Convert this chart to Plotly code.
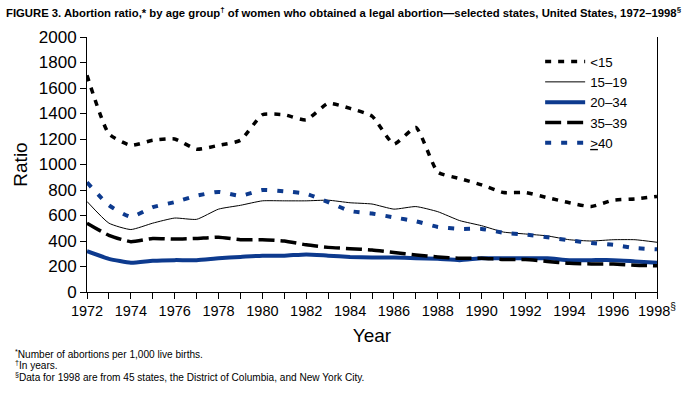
import plotly.graph_objects as go

years = list(range(1972, 1999))

lt15 = [1700, 1240, 1150, 1190, 1200, 1120, 1150, 1190, 1390, 1390, 1350, 1480,
        1440, 1380, 1160, 1290, 940, 890, 840, 780, 780, 740, 700, 670, 720, 730, 750]
a15_19 = [710, 540, 490, 540, 580, 570, 650, 680, 715, 715, 715, 720,
          700, 690, 650, 670, 630, 560, 520, 470, 455, 440, 410, 400, 410, 410, 390]
a20_34 = [320, 260, 230, 245, 250, 250, 265, 275, 285, 285, 295, 285,
          275, 270, 270, 265, 260, 250, 265, 265, 265, 265, 250, 250, 250, 240, 230]
a35_39 = [540, 445, 395, 420, 415, 420, 430, 410, 410, 400, 370, 350,
          340, 330, 310, 290, 275, 265, 265, 255, 255, 240, 225, 220, 220, 210, 205]
ge40 = [860, 680, 590, 665, 705, 755, 785, 755, 800, 790, 770, 705,
        635, 615, 585, 555, 510, 495, 495, 465, 450, 430, 405, 385, 370, 345, 335]

series_names = ["<15", "15–19", "20–34", "35–39", "<u>&gt;</u>40"]

tick_vals = list(range(1972, 1999, 2))
tick_text = [str(y) for y in tick_vals[:-1]] + ["1998<sup>§</sup>"]

BLUE = "#0d3a8e"

fig = go.Figure()
fig.add_trace(go.Scatter(x=years, y=lt15, name=series_names[0], mode="lines",
                         line=dict(color="black", width=3.5, dash="6px,7px", shape="spline", smoothing=0.5)))
fig.add_trace(go.Scatter(x=years, y=a15_19, name=series_names[1], mode="lines",
                         line=dict(color="black", width=1, shape="spline", smoothing=0.5)))
fig.add_trace(go.Scatter(x=years, y=a20_34, name=series_names[2], mode="lines",
                         line=dict(color=BLUE, width=4, shape="spline", smoothing=0.5)))
fig.add_trace(go.Scatter(x=years, y=a35_39, name=series_names[3], mode="lines",
                         line=dict(color="black", width=3.5, dash="16px,6px", shape="spline", smoothing=0.5)))
fig.add_trace(go.Scatter(x=years, y=ge40, name=series_names[4], mode="lines",
                         line=dict(color=BLUE, width=4, dash="6px,10px", shape="spline", smoothing=0.5)))

FONT = "Liberation Sans, Arial, sans-serif"

fig.update_layout(
    width=694, height=399,
    margin=dict(l=87, r=37, t=37, b=107),
    paper_bgcolor="white", plot_bgcolor="white",
    font=dict(family=FONT, color="black"),
    showlegend=True,
    legend=dict(x=0.795, y=0.963, xanchor="left", yanchor="top",
                font=dict(size=13.3, family=FONT), bgcolor="rgba(0,0,0,0)",
                itemwidth=40, tracegroupgap=0),
    xaxis=dict(range=[1972, 1998], tickvals=tick_vals, ticktext=tick_text,
               ticks="outside", ticklen=6, tickcolor="black", showgrid=False,
               showline=True, linecolor="black", linewidth=1, zeroline=False,
               tickfont=dict(size=14.5, family=FONT),
               minor=dict(dtick=1, tick0=1972, ticks="outside", ticklen=6, tickcolor="black"),
               title=dict(text="Year", font=dict(size=19, family=FONT), standoff=10)),
    yaxis=dict(range=[0, 2000], dtick=200, ticks="outside", ticklen=6, tickcolor="black",
               showgrid=False, showline=True, linecolor="black", linewidth=1, mirror=True,
               zeroline=False, tickfont=dict(size=17, family=FONT),
               title=dict(text="Ratio", font=dict(size=19, family=FONT), standoff=6)),
)

fig.add_annotation(text="<b>FIGURE 3. Abortion ratio,* by age group<sup>†</sup> of women who obtained a legal abortion—selected states, United States, 1972–1998<sup>§</sup></b>",
                   xref="paper", yref="paper", x=-83/570, y=1 + 25/255, xanchor="left", yanchor="middle",
                   showarrow=False, font=dict(size=11.3, family=FONT))

notes = ["<sup>*</sup>Number of abortions per 1,000 live births.",
         "<sup>†</sup>In years.",
         "<sup>§</sup>Data for 1998 are from 45 states, the District of Columbia, and New York City."]
for i, n in enumerate(notes):
    fig.add_annotation(text=n, xref="paper", yref="paper", x=-74/570, y=-(62 + 11.5 * i) / 255,
                       xanchor="left", yanchor="middle", showarrow=False,
                       font=dict(size=10.1, family=FONT))

fig.write_html("out.html", config={"displayModeBar": False},
               post_script="document.body.style.margin='0';document.body.style.padding='0';")
